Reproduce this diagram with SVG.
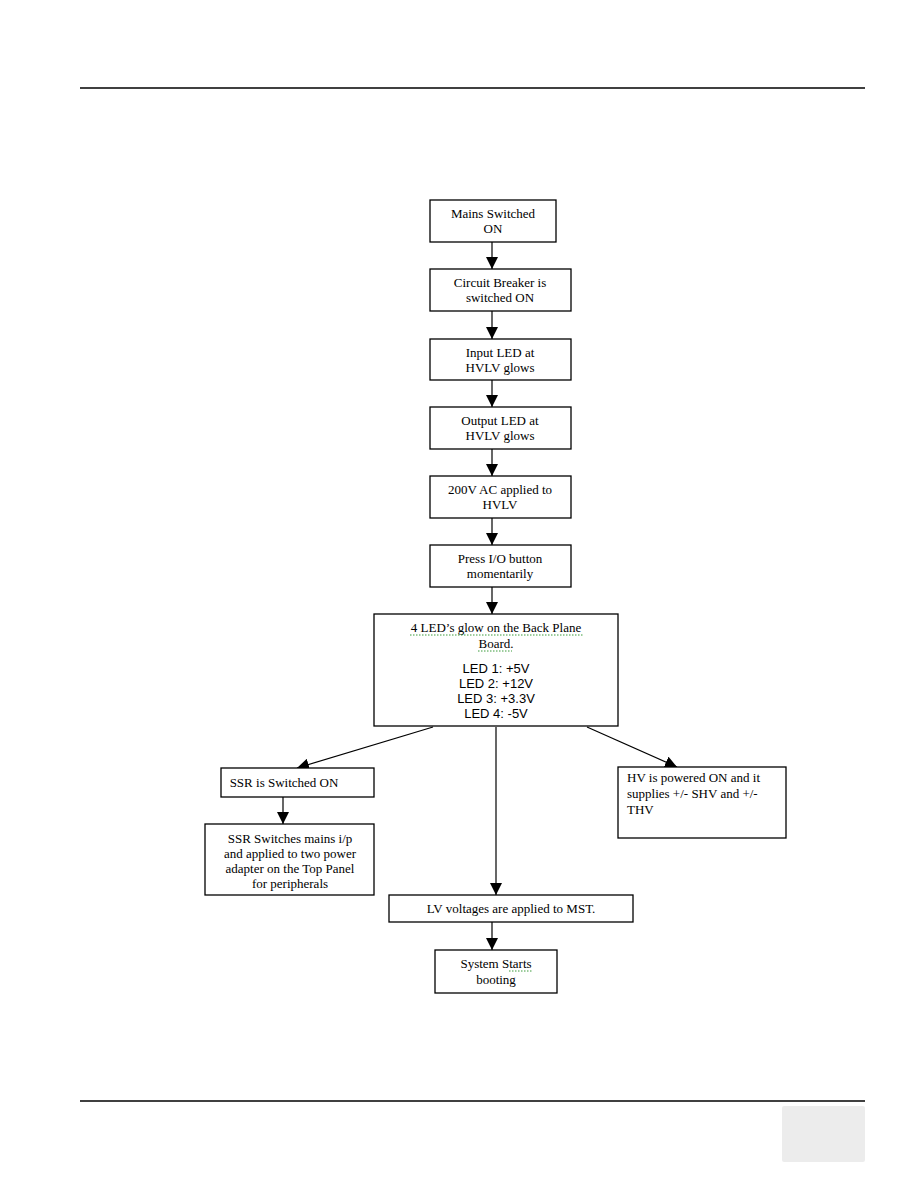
<svg xmlns="http://www.w3.org/2000/svg" width="918" height="1188" viewBox="0 0 918 1188">
<defs>
<style>
.box{fill:#fff;stroke:#000;stroke-width:1.3}
.t{font-family:"Liberation Serif","Times New Roman",serif;font-size:13px;fill:#000;text-anchor:middle}
.s{font-family:"Liberation Sans",Arial,sans-serif;font-size:13px;fill:#000;text-anchor:middle}
.c{stroke:#000;stroke-width:1.2;fill:none}
.sq{stroke:#3a9a3a;stroke-width:1;fill:none;stroke-dasharray:1.5 1.5}
</style>
<marker id="ah" viewBox="0 0 12 12" refX="12" refY="6" markerWidth="12" markerHeight="12" markerUnits="userSpaceOnUse" orient="auto">
<path d="M0,0 L12,6 L0,12 Z" fill="#000"/>
</marker>
</defs>
<rect width="918" height="1188" fill="#fff"/>
<line x1="80" y1="88" x2="865" y2="88" stroke="#000" stroke-width="1.5"/>
<line x1="80" y1="1101" x2="865" y2="1101" stroke="#000" stroke-width="1.5"/>
<rect x="782" y="1106" width="83" height="56" rx="2" fill="#ececec"/>

<g id="connectors">
<line class="c" x1="492" y1="242" x2="492" y2="269" marker-end="url(#ah)"/>
<line class="c" x1="492" y1="311" x2="492" y2="339" marker-end="url(#ah)"/>
<line class="c" x1="492" y1="380" x2="492" y2="407" marker-end="url(#ah)"/>
<line class="c" x1="492" y1="449" x2="492" y2="476" marker-end="url(#ah)"/>
<line class="c" x1="492" y1="518" x2="492" y2="545" marker-end="url(#ah)"/>
<line class="c" x1="492" y1="587" x2="492" y2="614" marker-end="url(#ah)"/>
<line class="c" x1="433" y1="727" x2="297" y2="768" marker-end="url(#ah)"/>
<line class="c" x1="496" y1="727" x2="496" y2="895" marker-end="url(#ah)"/>
<line class="c" x1="587" y1="727" x2="677" y2="767" marker-end="url(#ah)"/>
<line class="c" x1="283" y1="797" x2="283" y2="824" marker-end="url(#ah)"/>
<line class="c" x1="492" y1="922" x2="492" y2="950" marker-end="url(#ah)"/>
</g>

<g id="n1"><rect class="box" x="430" y="200" width="126" height="42"/>
<text class="t" x="493" y="218">Mains Switched</text><text class="t" x="493" y="233">ON</text></g>
<g id="n2"><rect class="box" x="430" y="269" width="141" height="42"/>
<text class="t" x="500" y="287">Circuit Breaker is</text><text class="t" x="500" y="302">switched ON</text></g>
<g id="n3"><rect class="box" x="430" y="339" width="141" height="41"/>
<text class="t" x="500" y="357">Input LED at</text><text class="t" x="500" y="372">HVLV glows</text></g>
<g id="n4"><rect class="box" x="430" y="407" width="141" height="42"/>
<text class="t" x="500" y="425">Output LED at</text><text class="t" x="500" y="440">HVLV glows</text></g>
<g id="n5"><rect class="box" x="430" y="476" width="141" height="42"/>
<text class="t" x="500" y="494">200V AC applied to</text><text class="t" x="500" y="509">HVLV</text></g>
<g id="n6"><rect class="box" x="430" y="545" width="141" height="42"/>
<text class="t" x="500" y="563">Press I/O button</text><text class="t" x="500" y="578">momentarily</text></g>
<g id="n7"><rect class="box" x="374" y="614" width="244" height="112"/>
<text class="t" x="496" y="632">4 LED’s glow on the Back Plane</text>
<text class="t" x="496" y="648">Board.</text>
<path class="sq" d="M410,635 L583,635 M478,651 L512,651"/>
<text class="s" x="496" y="673">LED 1: +5V</text>
<text class="s" x="496" y="688">LED 2: +12V</text>
<text class="s" x="496" y="703">LED 3: +3.3V</text>
<text class="s" x="496" y="718">LED 4: -5V</text></g>
<g id="n8"><rect class="box" x="221" y="768" width="153" height="29"/>
<text class="t" x="284" y="787">SSR is Switched ON</text></g>
<g id="n9"><rect class="box" x="205" y="824" width="169" height="71"/>
<text class="t" x="290" y="843">SSR Switches mains i/p</text>
<text class="t" x="290" y="858">and applied to two power</text>
<text class="t" x="290" y="873">adapter on the Top Panel</text>
<text class="t" x="290" y="888">for peripherals</text></g>
<g id="n10"><rect class="box" x="618" y="767" width="168" height="71"/>
<text class="t" x="627" y="782" style="text-anchor:start">HV is powered ON and it</text>
<text class="t" x="627" y="798" style="text-anchor:start">supplies +/- SHV and +/-</text>
<text class="t" x="627" y="814" style="text-anchor:start">THV</text></g>
<g id="n11"><rect class="box" x="389" y="895" width="244" height="27"/>
<text class="t" x="511" y="913">LV voltages are applied to MST.</text></g>
<g id="n12"><rect class="box" x="435" y="950" width="122" height="43"/>
<text class="t" x="496" y="968">System Starts</text><text class="t" x="496" y="984">booting</text>
<path class="sq" d="M509,971 L533,971"/></g>
</svg>
